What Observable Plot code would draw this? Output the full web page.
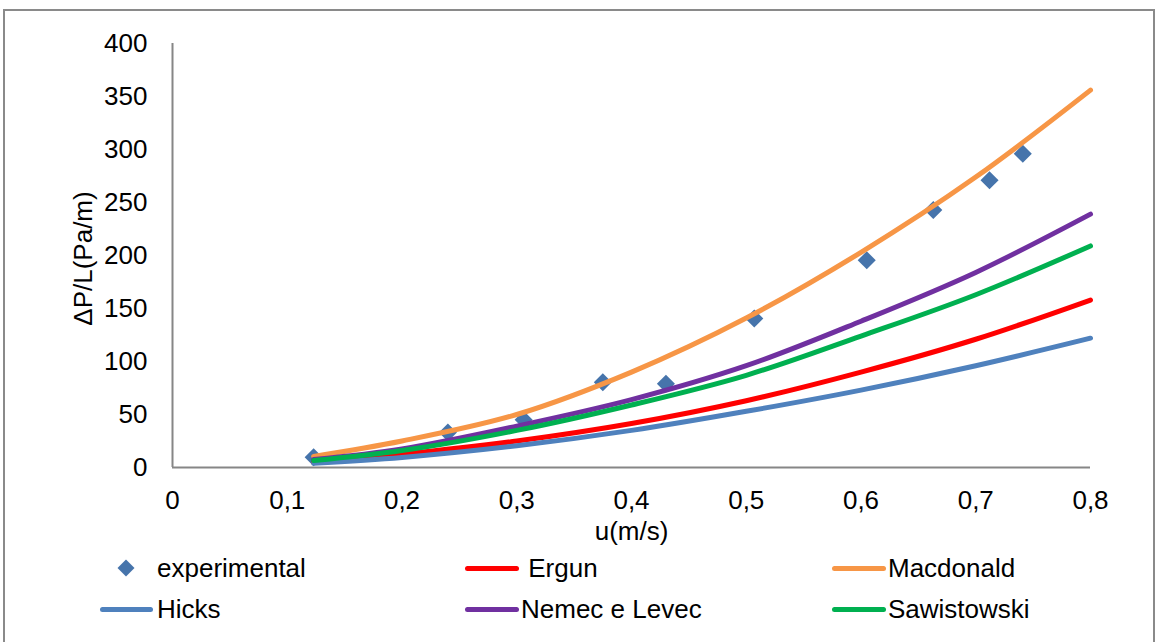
<!DOCTYPE html>
<html>
<head>
<meta charset="utf-8">
<script src="https://cdn.jsdelivr.net/npm/d3@7"></script>
<script src="https://cdn.jsdelivr.net/npm/@observablehq/plot@0.6"></script>
<style>
  html, body { margin: 0; padding: 0; background: #ffffff; }
  body { font-family: "Liberation Sans", Arial, sans-serif; }
  #wrap { position: relative; width: 1158px; height: 642px; overflow: hidden; }
  #frame { position: absolute; left: 3px; top: 9px; width: 1152px; height: 640px; border: 2px solid #8a8a8a; box-sizing: border-box; }
  #chart { position: absolute; left: 0; top: 0; }
  #legend { position: absolute; left: 0; top: 0; width: 1158px; height: 642px; pointer-events: none; }
  .lg-line { position: absolute; height: 5px; border-radius: 3px; }
  .lg-dia { position: absolute; width: 12px; height: 12px; transform: rotate(45deg); }
  .lg-text { position: absolute; font-size: 26px; line-height: 30px; color: #000; white-space: pre; }
</style>
</head>
<body>
<div id="wrap">
  <div id="frame"></div>
  <div id="chart"></div>
  <div id="legend"></div>
</div>
<script>
// ---- data ----
const expU  = [0.123, 0.240, 0.306, 0.375, 0.430, 0.507, 0.605, 0.663, 0.712, 0.741];
const expDP = [9.7, 33, 45, 80.5, 79, 140.6, 195.5, 243, 271, 296];

const modelU      = [0.123, 0.2, 0.3, 0.4, 0.5, 0.6, 0.7, 0.8];
const ergun       = [5, 12.5, 25, 41.5, 63, 90, 121, 158];
const macdonald   = [10.5, 25, 50, 90, 141, 203, 274, 356];
const hicks       = [4, 9.5, 20.5, 35, 53, 73, 96, 122];
const nemec       = [7.5, 17.5, 39, 64, 96, 138, 184, 239];
const sawistowski = [6.5, 16, 35, 59, 87, 124, 163, 209];

const seriesNames  = ["experimental", " Ergun", "Macdonald", "Hicks", "Nemec e Levec", "Sawistowski"];
const seriesColors = ["#4674ab", "#ff0000", "#f79646", "#4f81bd", "#7030a0", "#00b050"];
const modelValues  = [ergun, macdonald, hicks, nemec, sawistowski];

const xTicks = [0, 0.1, 0.2, 0.3, 0.4, 0.5, 0.6, 0.7, 0.8];
const yTicks = [0, 50, 100, 150, 200, 250, 300, 350, 400];
const xTitle = "u(m/s)";
const yTitle = "ΔP/L(Pa/m)";

// ---- build tables ----
const expData = expU.map((u, i) => ({u, dp: expDP[i]}));
const modelData = modelValues.map((vals, k) =>
  modelU.map((u, i) => ({u, dp: vals[i], name: seriesNames[k + 1]})));

const fmtX = d => d === 0 ? "0" : d3.format(".1f")(d).replace(".", ",");

const chart = Plot.plot({
  width: 1158,
  height: 560,
  marginTop: 43,
  marginLeft: 172,
  marginRight: 68,
  marginBottom: 93,
  style: { fontFamily: "'Liberation Sans', Arial, sans-serif", fontSize: "26px", background: "transparent", color: "#000", overflow: "visible" },
  x: { domain: [0, 0.8] },
  y: { domain: [0, 400] },
  marks: [
    Plot.ruleX([0], { y1: 0, y2: 400, stroke: "#868686", strokeWidth: 2 }),
    Plot.ruleY([0], { stroke: "#868686", strokeWidth: 2 }),
    Plot.dot(expData, { x: "u", y: "dp", symbol: "square", rotate: 45, r: 7.2, fill: seriesColors[0], stroke: "none" }),
    ...modelData.map((d, k) => Plot.line(d, {
      x: "u", y: "dp", stroke: seriesColors[k + 1], strokeWidth: 5,
      curve: "catmull-rom", strokeLinecap: "round", strokeLinejoin: "round"
    })),
    Plot.axisX({ ticks: xTicks, tickSize: 0, tickPadding: 23, tickFormat: fmtX, label: null, fill: "#000" }),
    Plot.axisY({ ticks: yTicks, tickSize: 0, tickPadding: 25, label: null, fill: "#000" }),
    Plot.text([yTitle], { frameAnchor: "left", textAnchor: "middle", lineAnchor: "middle", dx: -89, dy: 3, rotate: -90, fill: "#000" }),
    Plot.text([xTitle], { frameAnchor: "bottom", dy: 72, fill: "#000" })
  ]
});
document.getElementById("chart").appendChild(chart);

// ---- legend (HTML, below the plot area) ----
const legendLayout = [
  { kind: "dot",  cx: 126, tx: 157, y: 568 },
  { kind: "line", x1: 465, x2: 519, tx: 521, y: 568 },
  { kind: "line", x1: 832, x2: 886, tx: 888, y: 568 },
  { kind: "line", x1: 100, x2: 153, tx: 157, y: 609 },
  { kind: "line", x1: 465, x2: 519, tx: 521, y: 609 },
  { kind: "line", x1: 832, x2: 886, tx: 888, y: 609 }
];
const legend = document.getElementById("legend");
legendLayout.forEach((L, i) => {
  if (L.kind === "dot") {
    const d = document.createElement("div");
    d.className = "lg-dia";
    d.style.left = (L.cx - 6) + "px";
    d.style.top = (L.y - 6) + "px";
    d.style.background = seriesColors[i];
    legend.appendChild(d);
  } else {
    const l = document.createElement("div");
    l.className = "lg-line";
    l.style.left = L.x1 + "px";
    l.style.width = (L.x2 - L.x1) + "px";
    l.style.top = (L.y - 2.5) + "px";
    l.style.background = seriesColors[i];
    legend.appendChild(l);
  }
  const t = document.createElement("div");
  t.className = "lg-text";
  t.textContent = seriesNames[i];
  t.style.left = L.tx + "px";
  t.style.top = (L.y - 15) + "px";
  legend.appendChild(t);
});
</script>
</body>
</html>
